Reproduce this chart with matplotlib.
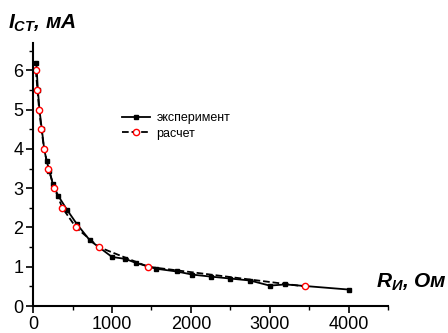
import matplotlib
matplotlib.use("Agg")
import matplotlib.pyplot as plt
from matplotlib.ticker import MultipleLocator

plt.rcParams['font.family'] = ['Liberation Sans', 'DejaVu Sans']
plt.rcParams['mathtext.fontset'] = 'custom'
plt.rcParams['mathtext.it'] = 'Liberation Sans:italic:bold'
plt.rcParams['mathtext.rm'] = 'Liberation Sans:bold'

# experiment
exp_r = [40, 60, 80, 110, 140, 170, 205, 250, 320, 430, 550, 720, 1000, 1170,
         1300, 1560, 1820, 2020, 2250, 2500, 2750, 3000, 3200, 4000]
exp_i = [6.2, 5.5, 5.0, 4.5, 4.0, 3.7, 3.45, 3.1, 2.8, 2.45, 2.1, 1.67, 1.25, 1.2,
         1.1, 0.95, 0.88, 0.8, 0.75, 0.7, 0.65, 0.52, 0.55, 0.42]

# calculation
calc_r = [34, 55, 76, 105, 139, 194, 270, 371, 544, 835, 1460, 3447]
calc_i = [6.0, 5.5, 5.0, 4.5, 4.0, 3.5, 3.0, 2.5, 2.0, 1.5, 1.0, 0.5]

fig = plt.figure(figsize=(4.48, 3.33), dpi=100)
ax = fig.add_axes([0.074, 0.081, 0.792, 0.79])

ax.plot(exp_r, exp_i, color='black', linestyle='-', linewidth=1.3,
        marker='s', markersize=3.5, label='эксперимент')
ax.plot(calc_r, calc_i, color='black', linestyle='--', linewidth=1.3,
        marker='o', markersize=4.5, markerfacecolor='white', markeredgecolor='red',
        label='расчет')

ax.set_xlim(0, 4500)
ax.set_ylim(0, 6.7)
ax.xaxis.set_major_locator(MultipleLocator(1000))
ax.xaxis.set_minor_locator(MultipleLocator(500))
ax.yaxis.set_major_locator(MultipleLocator(1))
ax.yaxis.set_minor_locator(MultipleLocator(0.5))
ax.spines['top'].set_visible(False)
ax.spines['right'].set_visible(False)
ax.spines['left'].set_linewidth(1.5)
ax.spines['bottom'].set_linewidth(1.5)
ax.tick_params(which='major', direction='out', length=5, width=1.2, labelsize=13, pad=2)
ax.tick_params(which='minor', direction='out', length=3, width=1.0)

ax.legend(loc='upper left', bbox_to_anchor=(0.22, 0.78), frameon=False,
          fontsize=9, handlelength=2.2, handletextpad=0.5, labelspacing=0.3)

fig.text(0.018, 0.915, r'$I_{CT}$, мА', fontsize=15, fontweight='bold',
         fontstyle='italic', ha='left', va='baseline')
fig.text(0.84, 0.135, r'$R_{И}$, Ом', fontsize=15, fontweight='bold',
         fontstyle='italic', ha='left', va='baseline')

fig.savefig('out.png', dpi=100)
